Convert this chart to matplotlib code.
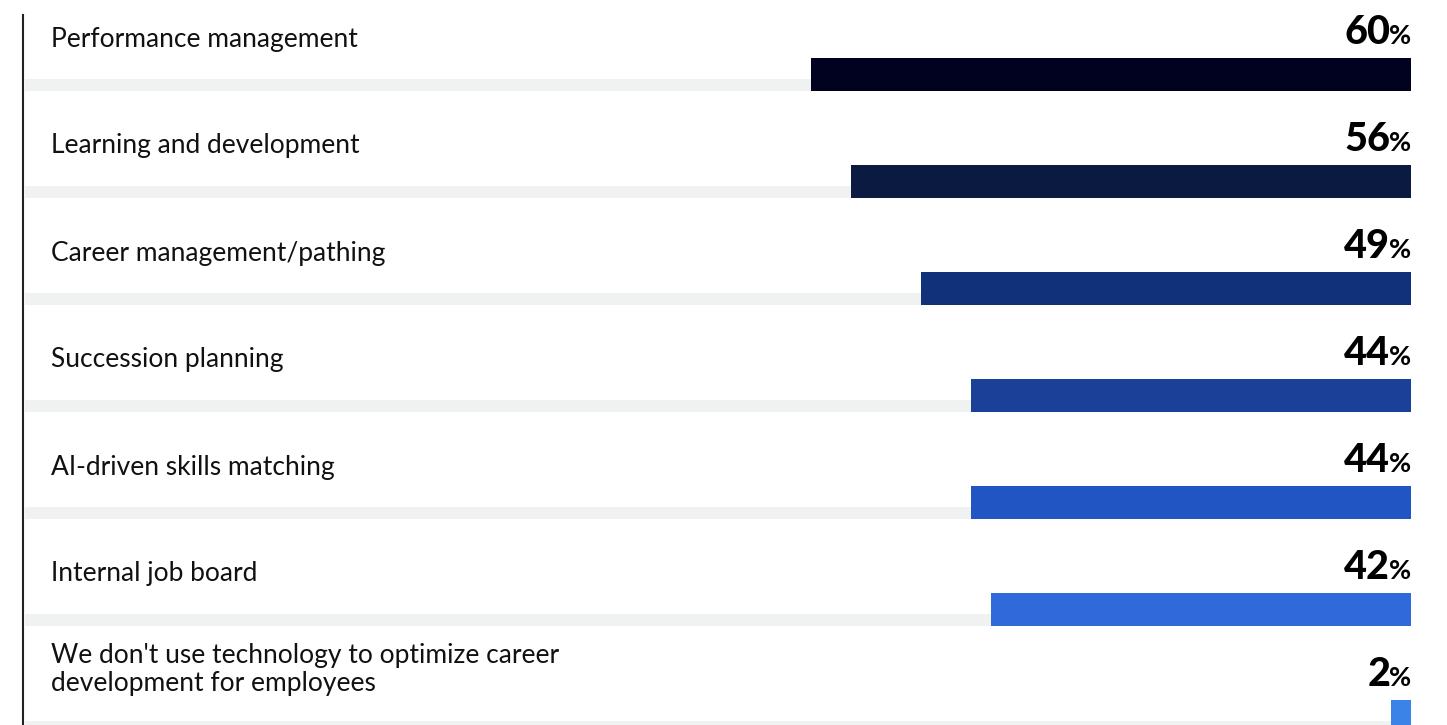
import matplotlib
matplotlib.use("Agg")
from matplotlib import pyplot as plt
from matplotlib.lines import Line2D

categories = [
    "Performance management",
    "Learning and development",
    "Career management/pathing",
    "Succession planning",
    "AI-driven skills matching",
    "Internal job board",
    "We don't use technology to optimize career\ndevelopment for employees",
]
values = [60, 56, 49, 44, 44, 42, 2]
bar_colors = ["#00021f", "#0a1a40", "#12317b", "#1a4097",
              "#2155c4", "#2f69da", "#3b83e6"]
track_color = "#f0f1f1"

W, H, DPI = 1447, 725, 100
plt.rcParams["font.family"] = ["Lato", "DejaVu Sans"]

fig = plt.figure(figsize=(W / DPI, H / DPI), dpi=DPI)
# axes: left at 25px, right at 1411px, full height
ax = fig.add_axes([25 / W, 0, (1411 - 25) / W, 1])
span = (1411 - 25) / 10.0  # 10 px per percentage point
ax.set_xlim(span, 0)
row_px, first_px = 107, 91
ax.set_ylim((H - first_px) / row_px, -first_px / row_px)
ax.axis("off")

bar_h = 33 / row_px
track_h = 12 / row_px
rows = list(range(len(categories)))

ax.barh([r - track_h for r in rows], [span] * len(rows), height=track_h,
        align="edge", color=track_color, linewidth=0)
ax.barh([r - bar_h for r in rows], values, height=bar_h,
        align="edge", color=bar_colors, linewidth=0)

fig.canvas.draw()
renderer = fig.canvas.get_renderer()

for r, (cat, v) in enumerate(zip(categories, values)):
    nlines = cat.count("\n") + 1
    ax.text(span - 2.6, r - (52 + 11.5 * (nlines - 1)) / row_px,
            cat, ha="left", va="center", fontsize=19, color="#111111",
            linespacing=1.2)
    ypct = r - 47 / row_px
    pct = ax.text(0, ypct, "%", ha="right", va="baseline", fontsize=19.5,
                  fontweight="bold", color="#000000")
    pw = pct.get_window_extent(renderer).width
    ax.annotate(str(v), xy=(0, ypct), xytext=(-pw * 72 / DPI + 1, 0),
                textcoords="offset points", ha="right", va="baseline",
                fontsize=28.5, fontweight="black", color="#000000")

fig.add_artist(Line2D([23 / W, 23 / W], [0, 1 - 15 / H],
                      transform=fig.transFigure, color="#222222", lw=1.5))

fig.savefig("out.png", dpi=DPI)
